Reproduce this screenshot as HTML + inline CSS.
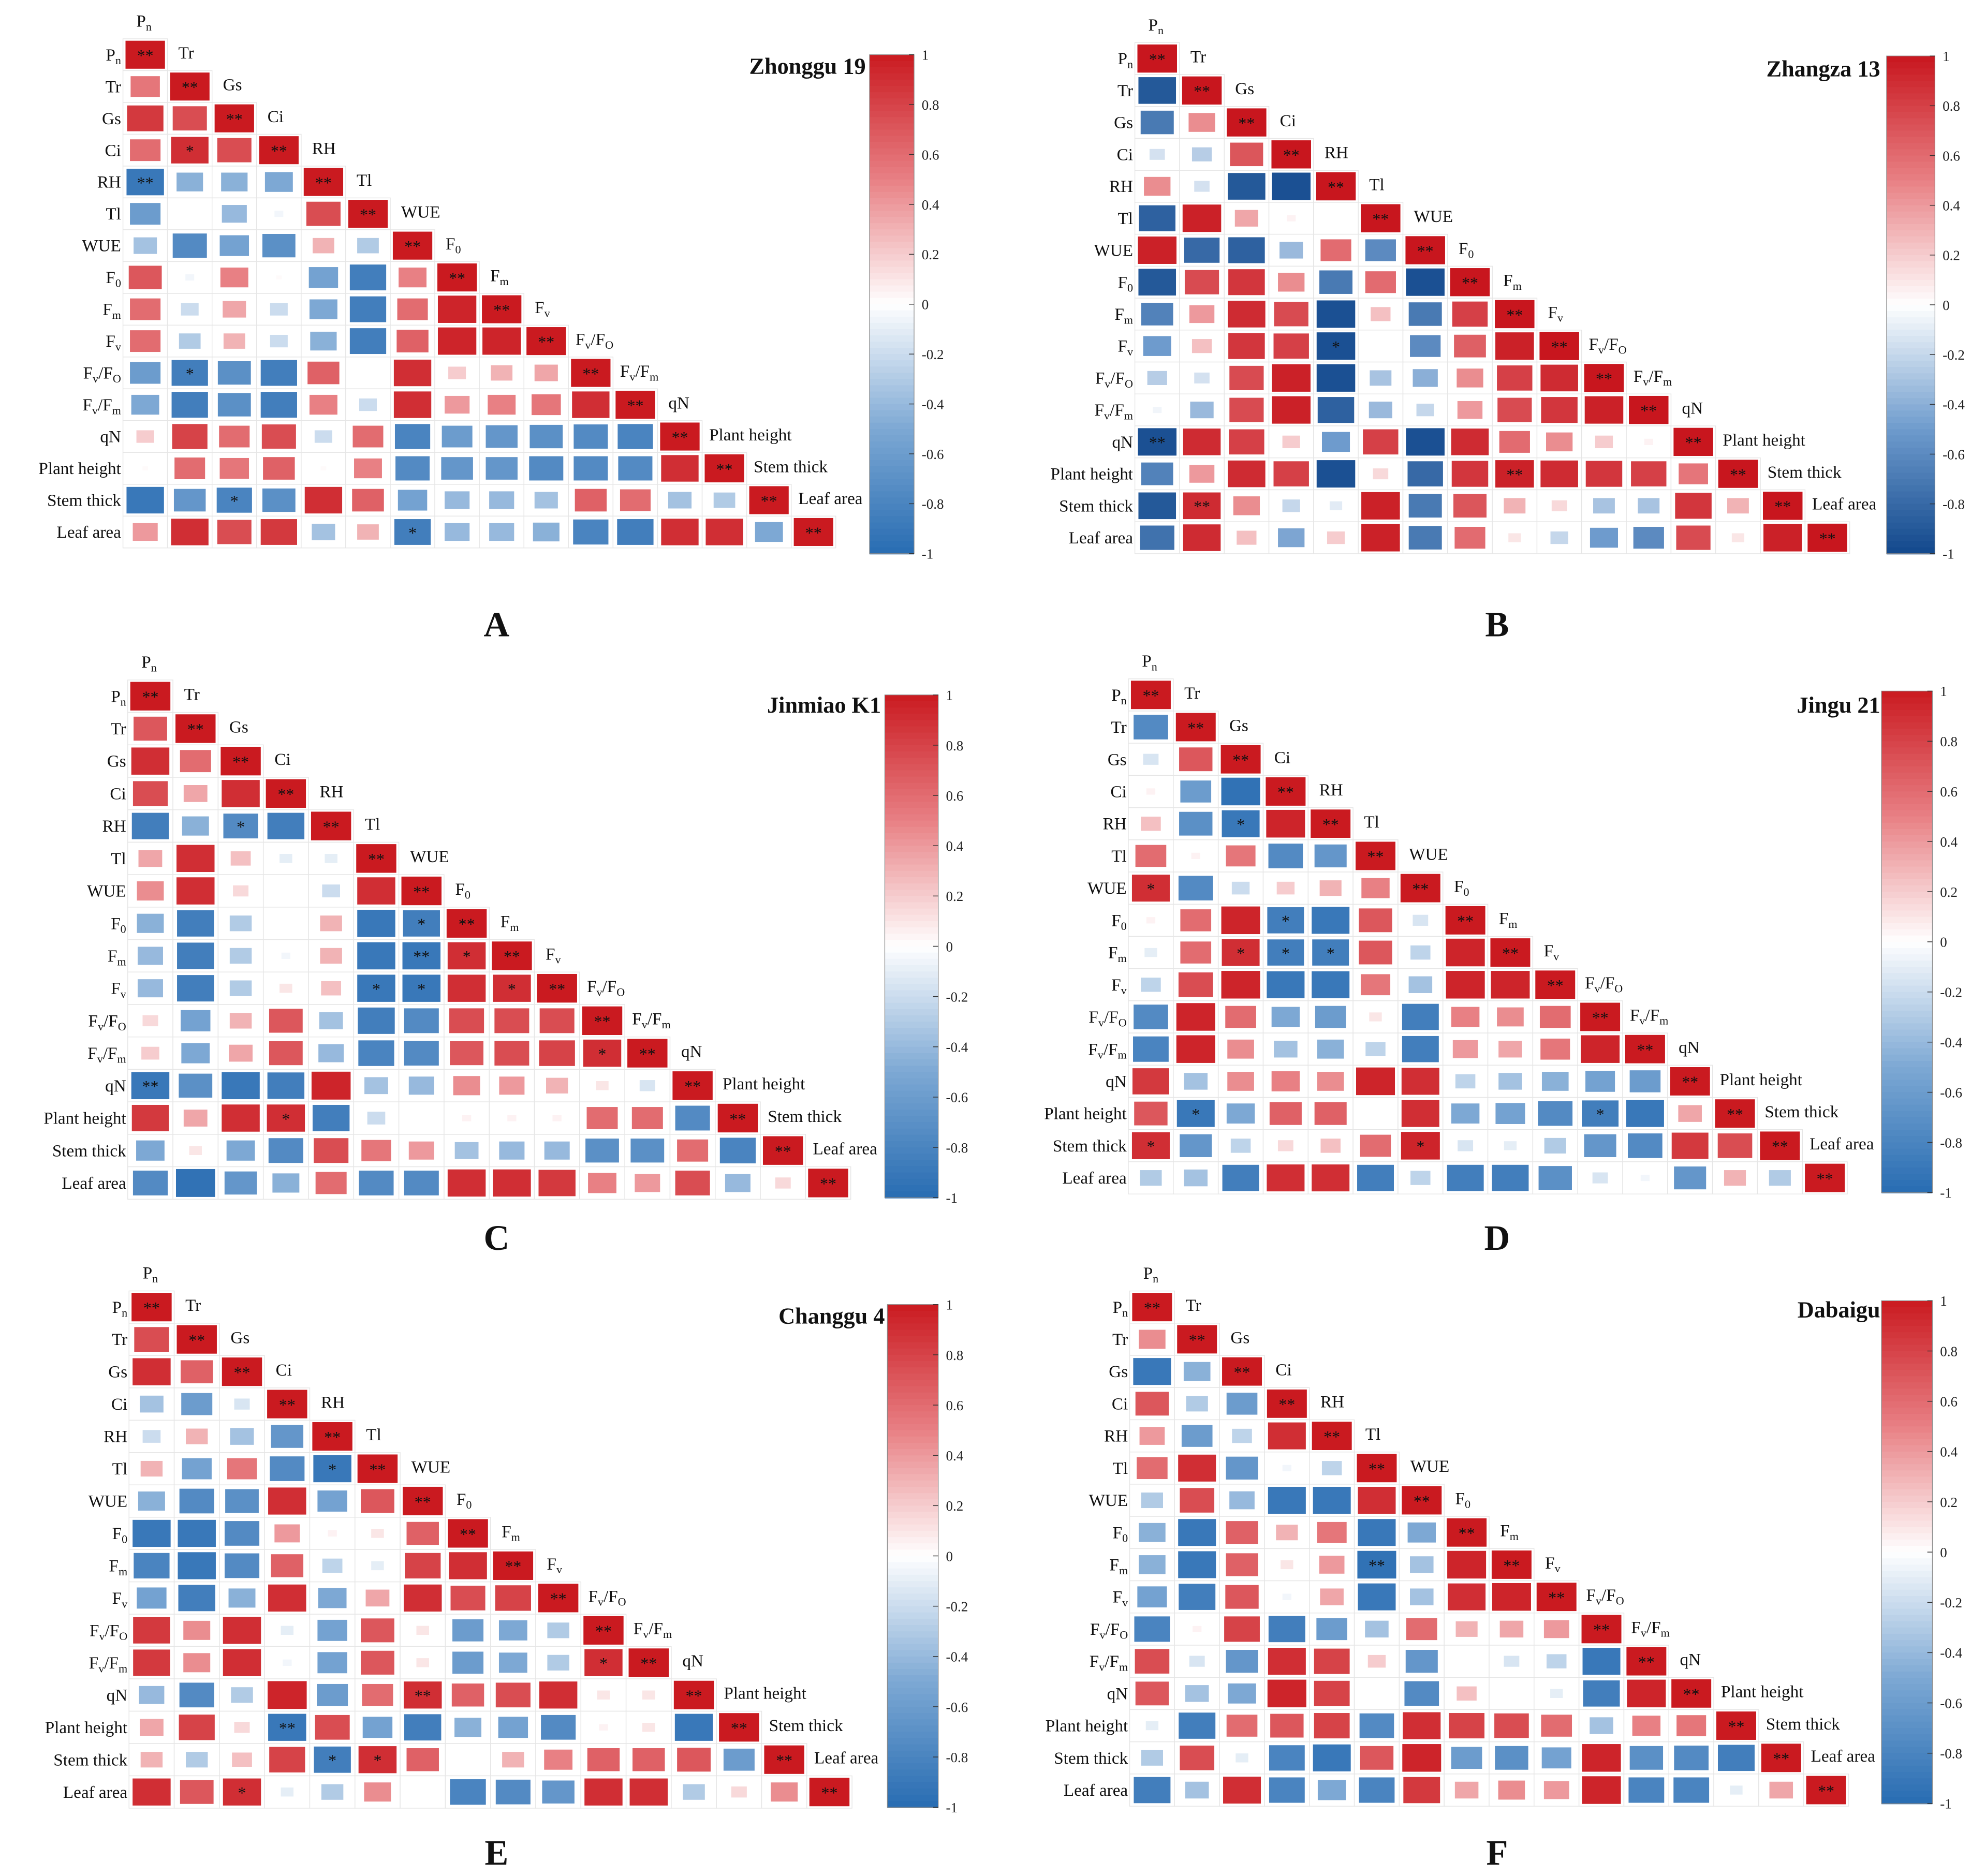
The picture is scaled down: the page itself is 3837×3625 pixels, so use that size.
<!DOCTYPE html>
<html><head><meta charset="utf-8">
<style>
html,body{margin:0;padding:0;background:#fff;}
svg{display:block;font-family:"Liberation Serif","DejaVu Serif",serif;}
</style></head>
<body>
<svg id="fig" width="3837" height="3625" viewBox="0 0 1560 1474" xmlns="http://www.w3.org/2000/svg">
<rect x="0" y="0" width="1560" height="1474" fill="#fff"/>
</svg>
<script>
// ---- data ----
const variables = ["Pn","Tr","Gs","Ci","RH","Tl","WUE","F0","Fm","Fv","FvFo","FvFm","qN","Plant height","Stem thick","Leaf area"];
const colorbarTicks = [1,0.8,0.6,0.4,0.2,0,-0.2,-0.4,-0.6,-0.8,-1];
const panelTitles = ["Zhonggu 19","Zhangza 13","Jinmiao K1","Jingu 21","Changgu 4","Dabaigu"];
const panelLetters = ["A","B","C","D","E","F"];

const corrA = [
[],
[0.55],
[0.85,0.75],
[0.6,0.9,0.75],
[-0.9,-0.45,-0.45,-0.5],
[-0.6,0,-0.4,-0.05,0.75],
[-0.35,-0.75,-0.55,-0.7,0.3,-0.3],
[0.7,-0.05,0.5,0.02,-0.55,-0.85,0.5],
[0.6,-0.2,0.35,-0.2,-0.5,-0.85,0.6,0.95],
[0.6,-0.3,0.3,-0.2,-0.45,-0.85,0.65,0.95,0.95],
[-0.6,-0.85,-0.7,-0.85,0.65,0,0.9,0.2,0.3,0.35],
[-0.5,-0.85,-0.7,-0.85,0.5,-0.2,0.9,0.4,0.5,0.55,0.9],
[0.2,0.8,0.6,0.75,-0.2,0.6,-0.8,-0.6,-0.65,-0.7,-0.75,-0.8],
[0.02,0.6,0.55,0.65,0.02,0.5,-0.75,-0.65,-0.65,-0.75,-0.75,-0.75,0.9],
[-0.9,-0.65,-0.8,-0.7,0.9,0.65,-0.55,-0.4,-0.4,-0.35,0.65,0.6,-0.35,-0.3],
[0.4,0.9,0.75,0.85,-0.35,0.3,-0.85,-0.4,-0.4,-0.45,-0.8,-0.85,0.9,0.9,-0.5]];
const corrB = [
[],
[-0.9],
[-0.7,0.45],
[-0.15,-0.25,0.7],
[0.45,-0.15,-0.9,-0.95],
[-0.85,0.95,0.35,0.05,0],
[0.95,-0.8,-0.85,-0.35,0.6,-0.6],
[-0.9,0.75,0.85,0.45,-0.7,0.6,-0.95],
[-0.65,0.4,0.9,0.75,-0.95,0.25,-0.7,0.8],
[-0.5,0.25,0.85,0.8,-0.95,0,-0.6,0.65,0.95],
[-0.25,-0.15,0.75,0.95,-0.95,-0.3,-0.4,0.45,0.8,0.9],
[-0.05,-0.35,0.75,0.95,-0.85,-0.35,-0.2,0.4,0.75,0.85,0.95],
[-0.95,0.9,0.8,0.2,-0.5,0.8,-0.95,0.9,0.6,0.45,0.2,0.05],
[-0.65,0.4,0.9,0.8,-0.95,0.15,-0.8,0.85,0.95,0.9,0.85,0.8,0.55],
[-0.9,0.9,0.45,-0.2,-0.1,0.95,-0.7,0.7,0.3,0.15,-0.3,-0.3,0.85,0.3],
[-0.75,0.9,0.25,-0.45,0.2,0.95,-0.7,0.6,0.1,-0.2,-0.5,-0.6,0.75,0.1,0.95]];
const corrC = [
[],
[0.7],
[0.9,0.6],
[0.75,0.35,0.9],
[-0.85,-0.45,-0.75,-0.85],
[0.35,0.9,0.25,-0.1,-0.1],
[0.45,0.9,0.15,0,-0.2,0.9],
[-0.45,-0.85,-0.3,0,0.3,-0.9,-0.85],
[-0.4,-0.85,-0.3,-0.05,0.3,-0.9,-0.9,0.9],
[-0.4,-0.85,-0.3,0.1,0.25,-0.9,-0.9,0.9,0.9],
[0.15,-0.55,0.3,0.7,-0.35,-0.85,-0.75,0.75,0.75,0.75],
[0.2,-0.5,0.35,0.7,-0.4,-0.8,-0.75,0.7,0.75,0.8,0.9],
[-0.9,-0.7,-0.9,-0.85,0.95,-0.35,-0.4,0.45,0.4,0.3,0.1,-0.15],
[0.85,0.35,0.9,0.9,-0.85,-0.2,0,0.05,0.05,0.05,0.6,0.6,-0.75],
[-0.5,0.1,-0.5,-0.75,0.75,0.55,0.4,-0.35,-0.4,-0.4,-0.7,-0.7,0.6,-0.8],
[-0.75,-0.95,-0.65,-0.45,0.6,-0.75,-0.75,0.9,0.9,0.85,0.5,0.4,0.75,-0.4,0.15]];
const corrD = [
[],
[-0.75],
[-0.15,0.7],
[0.05,-0.6,-0.95],
[0.25,-0.7,-0.9,0.95],
[0.6,0.05,0.55,-0.75,-0.65],
[0.9,-0.75,-0.2,0.2,0.3,0.5],
[0.05,0.6,0.95,-0.85,-0.9,0.7,-0.15],
[-0.1,0.6,0.9,-0.85,-0.85,0.7,-0.25,0.95],
[-0.25,0.75,0.95,-0.9,-0.9,0.55,-0.35,0.95,0.95],
[-0.75,0.95,0.6,-0.5,-0.6,0.1,-0.85,0.5,0.45,0.6],
[-0.8,0.95,0.45,-0.35,-0.45,-0.25,-0.85,0.4,0.35,0.55,0.95],
[0.85,-0.35,0.45,0.5,0.45,0.95,0.9,-0.25,-0.35,-0.45,-0.55,-0.6],
[0.7,-0.9,-0.5,0.65,0.65,0,0.9,-0.5,-0.55,-0.75,-0.85,-0.9,0.35],
[0.9,-0.65,-0.25,0.15,0.25,0.6,0.95,-0.15,-0.1,-0.3,-0.65,-0.75,0.85,0.75],
[-0.3,-0.35,-0.85,0.9,0.9,-0.85,-0.25,-0.85,-0.85,-0.7,-0.15,-0.05,-0.65,0.3,-0.3]];
const corrE = [
[],
[0.75],
[0.9,0.65],
[-0.35,-0.6,-0.15],
[-0.2,0.3,-0.35,-0.65],
[0.3,-0.55,0.55,-0.75,-0.9],
[-0.45,-0.75,-0.7,0.9,-0.55,0.7],
[-0.9,-0.9,-0.75,0.4,0.05,0.1,0.65],
[-0.8,-0.9,-0.75,0.65,-0.25,-0.1,0.8,0.9],
[-0.55,-0.85,-0.45,0.9,-0.5,0.35,0.9,0.75,0.8],
[0.85,0.45,0.9,-0.1,-0.55,0.7,0.1,-0.6,-0.5,-0.3],
[0.85,0.45,0.9,-0.05,-0.55,0.7,0.1,-0.6,-0.5,-0.3,0.9],
[-0.4,-0.75,-0.3,0.95,-0.6,0.6,0.9,0.65,0.75,0.9,0.1,0.1],
[0.35,0.8,0.15,-0.9,0.75,-0.55,-0.85,-0.45,-0.55,-0.75,0.05,0.1,-0.9],
[0.3,-0.3,0.25,0.8,-0.85,0.9,0.65,0,0.3,0.5,0.65,0.65,0.7,-0.6],
[0.9,0.7,0.9,-0.1,-0.3,0.45,0,-0.8,-0.75,-0.65,0.9,0.9,-0.3,0.15,0.45]];
const corrF = [
[],
[0.45],
[-0.9,-0.45],
[0.7,-0.3,-0.6],
[0.4,-0.6,-0.25,0.9],
[0.6,0.9,-0.65,-0.05,-0.25],
[-0.3,0.75,-0.4,-0.9,-0.9,0.9],
[-0.45,-0.9,0.65,0.3,0.55,-0.9,-0.5],
[-0.45,-0.9,0.65,0.1,0.4,-0.95,-0.35,0.95],
[-0.55,-0.85,0.7,-0.05,0.35,-0.9,-0.35,0.9,0.95],
[-0.8,0.05,0.8,-0.85,-0.6,-0.35,0.6,0.3,0.35,0.4],
[0.75,-0.15,-0.65,0.9,0.8,0.2,-0.65,0,-0.15,-0.25,-0.9],
[0.7,-0.35,-0.5,0.95,0.8,0,-0.75,0.25,0,-0.1,-0.85,0.95],
[-0.1,-0.85,0.6,0.7,0.8,-0.75,0.9,0.8,0.75,0.6,-0.35,0.5,0.55],
[-0.3,0.75,-0.1,-0.8,-0.9,0.7,0.95,-0.6,-0.7,-0.55,0.95,-0.7,-0.75,-0.85],
[-0.85,-0.35,0.9,-0.8,-0.5,-0.8,0.85,0.35,0.45,0.4,0.95,-0.8,-0.8,-0.1,0.35]];

const starsA = ["3,1,*","4,0,**","10,1,*","14,2,*","15,6,*"];
const starsB = ["9,4,*","12,0,**","13,8,**","14,1,**"];
const starsC = ["4,2,*","7,6,*","8,6,**","8,7,*","9,5,*","9,6,*","9,8,*","11,10,*","12,0,**","13,3,*"];
const starsD = ["4,2,*","6,0,*","7,3,*","8,2,*","8,3,*","8,4,*","13,1,*","13,10,*","14,0,*","14,6,*"];
const starsE = ["5,4,*","11,10,*","12,6,**","13,3,**","14,4,*","14,5,*","15,2,*"];
const starsF = ["8,5,**"];

const corrs = [corrA,corrB,corrC,corrD,corrE,corrF];
const stars = [starsA,starsB,starsC,starsD,starsE,starsF];

// ---- layout (not data) ----
const layout = [
 {x0:114,y0:43,dx:35,dy:25,cb:[683,43,718,435],tx:680,ty:58,lx:390,ly:490},
 {x0:909,y0:46,dx:35.1,dy:25.1,cb:[1482,44,1520,435],tx:1477,ty:60,lx:1176,ly:490},
 {x0:118,y0:547,dx:35.5,dy:25.5,cb:[695,546,737,941],tx:692,ty:560,lx:390,ly:972},
 {x0:904,y0:546,dx:35.3,dy:25.3,cb:[1478,543,1518,937],tx:1477,ty:560,lx:1176,ly:972},
 {x0:119,y0:1027,dx:35.5,dy:25.4,cb:[697,1025,737,1420],tx:695,ty:1040,lx:390,ly:1455},
 {x0:905,y0:1027,dx:35.3,dy:25.3,cb:[1478,1022,1518,1417],tx:1477,ty:1035,lx:1176,ly:1455}];

const NS="http://www.w3.org/2000/svg";
const svg=document.getElementById('fig');
function el(tag,attrs,parent){const e=document.createElementNS(NS,tag);for(const k in attrs)e.setAttribute(k,attrs[k]);(parent||svg).appendChild(e);return e;}

const stopsStd=[[-1,[40,108,178]],[-0.5,[125,168,212]],[0,[255,255,255]],[0.5,[232,128,132]],[1,[202,26,32]]];
const stopsDark=[[-1,[18,72,140]],[-0.5,[110,155,205]],[0,[255,255,255]],[0.5,[232,128,132]],[1,[200,22,30]]];
function color(v,stops){
  v=Math.max(-1,Math.min(1,v));
  for(let i=0;i<stops.length-1;i++){const a=stops[i],b=stops[i+1];
    if(v>=a[0]&&v<=b[0]){const t=(v-a[0])/(b[0]-a[0]);
      const c=a[1].map((x,k)=>Math.round(x+(b[1][k]-x)*t));return `rgb(${c[0]},${c[1]},${c[2]})`;}}
  return '#fff';
}
function label(parent,name,x,y,anchor){
  const t=el('text',{x:x,y:y,'text-anchor':anchor,'font-size':13.5,'font-weight':'normal',fill:'#111'},parent);
  const sub=(base,s)=>{const a=el('tspan',{},t);a.textContent=base;const b=el('tspan',{'font-size':9,dy:3},t);b.textContent=s;return b;};
  if(name==="Pn"){sub("P","n");}
  else if(name==="F0"){sub("F","0");}
  else if(name==="Fm"){sub("F","m");}
  else if(name==="Fv"){sub("F","v");}
  else if(name==="FvFo"||name==="FvFm"){sub("F","v");const c=el('tspan',{dy:-3},t);c.textContent="/F";const d=el('tspan',{'font-size':9,dy:3},t);d.textContent=name==="FvFo"?"O":"m";}
  else t.textContent=name;
  return t;
}

corrs.forEach((M,p)=>{
  const L=layout[p];
  const stops=(p===1)?stopsDark:stopsStd;
  const g=el('g',{});
  
  
  const xs=j=>L.x0+j*L.dx, ys=i=>L.y0+i*L.dy;
  const n=variables.length;
  for(let i=0;i<n;i++){
    for(let j=0;j<=i;j++){
      const v=(i===j)?1:M[i][j];
      const cx=xs(j),cy=ys(i);
      el('rect',{x:cx-L.dx/2,y:cy-L.dy/2,width:L.dx,height:L.dy,fill:'#fff',stroke:'#e6e6e6','stroke-width':0.6},g);
      const s=Math.sqrt(Math.abs(v));
      const w=(L.dx-4)*s,h=(L.dy-3)*s;
      if(w>0.5){
        const r=el('rect',{x:cx-w/2,y:cy-h/2,width:w,height:h,fill:color(v,stops)},g);
        
        
      }
      if(i===j){const st=el('text',{x:cx,y:cy+5,'text-anchor':'middle','font-size':13,fill:'#111'},g);st.textContent='**';}
    }
    const rl=label(g,variables[i],xs(0)-19,ys(i)+4.5,'end');
    
    
    const hx=(variables[i].length>3)?xs(i)-12:xs(i)-(i===0?7:9);
    const cl=label(g,variables[i],hx,ys(i)-L.dy+3,'start');
    
    
  }
  stars[p].forEach(s=>{const [i,j,m]=s.split(',');
    const st=el('text',{x:xs(+j),y:ys(+i)+5,'text-anchor':'middle','font-size':13,fill:'#111'},g);st.textContent=m;});
  const tt=el('text',{x:L.tx,y:L.ty,'text-anchor':'end','font-size':18,'font-weight':'bold',fill:'#111'},g);
  tt.textContent=panelTitles[p];
  
  
  const lt=el('text',{x:L.lx,y:L.ly+10,'text-anchor':'middle','font-size':28,'font-weight':'bold',fill:'#111'},g);
  lt.textContent=panelLetters[p];
  
  
  const [bx1,by1,bx2,by2]=L.cb;
  const cb=el('g',{},g);
  
  
  const steps=80;
  for(let k=0;k<steps;k++){
    const v=1-2*(k+0.5)/steps;
    el('rect',{x:bx1,y:by1+(by2-by1)*k/steps,width:bx2-bx1,height:(by2-by1)/steps+0.6,fill:color(v,stops)},cb);
  }
  el('rect',{x:bx1,y:by1,width:bx2-bx1,height:by2-by1,fill:'none',stroke:'#888','stroke-width':0.5},cb);
  colorbarTicks.forEach(t=>{
    const y=by1+(1-t)/2*(by2-by1);
    el('line',{x1:bx2-4,x2:bx2,y1:y,y2:y,stroke:'#333','stroke-width':0.6},cb);
    const tl=el('text',{x:bx2+6,y:y+4,'font-size':11,fill:'#222'},cb);
    tl.textContent=String(t);
  });
});
</script>
</body></html>
